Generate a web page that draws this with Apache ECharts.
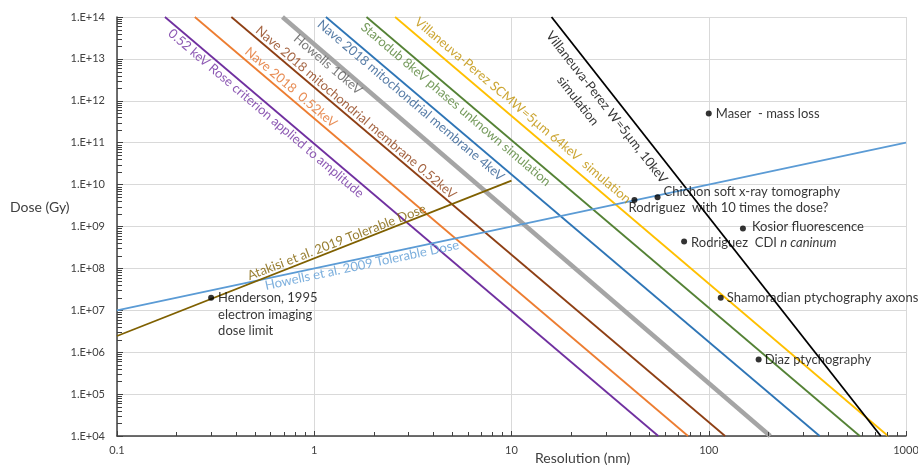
<!DOCTYPE html>
<html><head><meta charset="utf-8">
<script src="https://cdn.jsdelivr.net/npm/echarts@6/dist/echarts.min.js"></script>
<style>html,body{margin:0;padding:0;background:#fff}#c{width:918px;height:467px}</style>
</head><body><div id="c"></div>
<script>
// ---------- DATA ----------
const xTickLabels = ['0.1', '1', '10', '100', '1000'];
const yTickLabels = ['1.E+04','1.E+05','1.E+06','1.E+07','1.E+08','1.E+09','1.E+10','1.E+11','1.E+12','1.E+13','1.E+14'];

const lineNames = [
  '0.52 keV Rose criterion applied to amplitude',
  'Nave 2018  0.52keV',
  'Nave 2018 mitochondrial membrane 0.52keV',
  'Howells 10keV',
  'Nave 2018 mitochondrial membrane 4keV',
  'Starodub 8keV phases unknown simulation',
  'Villaneuva-Perez SCMW=5µm 64keV  simulation',
  'Villaneuva-Perez W=5µm, 10keV simulation',
  'Howells et al. 2009 Tolerable Dose',
  'Atakisi et al. 2019 Tolerable Dose'
];
// resolution (nm) at the two ends of each line
const lineResolution = [
  [0.175, 55.5], [0.248, 78.5], [0.38, 121], [0.69, 205], [1.146, 365],
  [1.84, 583], [2.57, 811], [15.96, 745], [0.1, 1000], [0.1, 10]
];
// dose (Gy) at the two ends of each line
const lineDose = [
  [1e14, 1e4], [1e14, 1e4], [1e14, 1e4], [1e14, 1e4], [1e14, 1e4],
  [1e14, 1e4], [1e14, 1e4], [1e14, 1e4], [1e7, 1e11], [2.44e6, 1.24e10]
];

const pointNames = [
  'Henderson, 1995\nelectron imaging\ndose limit',
  'Maser  - mass loss',
  'Chichon soft x-ray tomography',
  'Rodriguez  with 10 times the dose?',
  'Kosior fluorescence',
  'Rodriguez  CDI n caninum',
  'Shamoradian ptychography axons',
  'Diaz ptychography'
];
const pointResolution = [0.3, 100, 55, 42, 149, 75, 115, 179];
const pointDose = [2e7, 5e11, 5e9, 4.3e9, 9e8, 4.4e8, 2e7, 6.7e5];

// ---------- STYLE ----------
const FONT = 'Lato, "Liberation Sans", sans-serif';
const lineColors = ['#7030A0','#ED7D31','#8E3F14','#A5A5A5','#2E75B6','#548235','#FFC000','#000000','#5B9BD5','#7F6000'];
const lineWidths = [1.8,1.8,1.8,4.5,1.8,1.8,1.8,1.8,1.8,1.8];

// line label placement (text centre in data coordinates) and rotation
const lineLabelStyle = [
  { res: 0.569, dose: 5.0e11, rot: -40.4, color: '#7030A0' },
  { res: 0.762, dose: 2.09e12, rot: -40.4, color: '#E2702A' },
  { res: 1.627, dose: 5.25e11, rot: -40.4, color: '#8E3F14' },
  { res: 1.173, dose: 7.4e12, rot: -40.4, color: '#595959' },
  { res: 3.09, dose: 1.02e12, rot: -40.4, color: '#2E5C91' },
  { res: 5.22, dose: 8.2e11, rot: -40.4, color: '#548235' },
  { res: 11.4, dose: 5.9e11, rot: -40.4, color: '#BF9000' },
  { res: 30.4, dose: 7.0e11, rot: -52, color: '#000000', text: 'Villaneuva-Perez W=5µm, 10keV' },
  { res: 1.745, dose: 1.19e8, rot: 12, color: '#5B9BD5' },
  { res: 1.30, dose: 4.2e8, rot: 21, color: '#7F6000' }
];
const extraLabel = { text: 'simulation', res: 21.7, dose: 1.0e12, rot: -52, color: '#000000' };

const pointLabelOffset = [[0, 17], [0, 0], [-1, -5], [-13, 8], [2, -2], [0, 1], [-1, 0], [-1, 0]];

// ---------- BUILD ----------
const series = [];
lineNames.forEach((n, i) => {
  series.push({
    type: 'line', name: n, silent: true, symbol: 'none', animation: false,
    data: [[lineResolution[i][0], lineDose[i][0]], [lineResolution[i][1], lineDose[i][1]]],
    lineStyle: { color: lineColors[i], width: lineWidths[i] }, z: i === 3 ? 2 : 3
  });
});

const annoData = lineLabelStyle.map((s, i) => ({
  value: [s.res, s.dose],
  label: { formatter: s.text || lineNames[i], rotate: s.rot, color: s.color }
}));
annoData.push({ value: [extraLabel.res, extraLabel.dose], label: { formatter: extraLabel.text, rotate: extraLabel.rot, color: extraLabel.color } });
series.push({
  type: 'scatter', silent: true, symbolSize: 0, animation: false, z: 5,
  data: annoData,
  label: { show: true, position: 'inside', fontFamily: FONT, fontSize: 13 }
});

series.push({
  type: 'scatter', silent: true, animation: false, z: 6,
  symbolSize: 6, itemStyle: { color: '#000' },
  data: pointNames.map((n, i) => ({
    value: [pointResolution[i], pointDose[i]],
    label: {
      show: true, position: 'right', distance: 4, offset: pointLabelOffset[i],
      formatter: n.indexOf('n caninum') >= 0 ? '{a|Rodriguez  CDI }{b|n caninum}' : n,
      rich: { a: { fontFamily: FONT, fontSize: 13, color: '#000' }, b: { fontFamily: FONT, fontSize: 13, fontStyle: 'italic', color: '#000' } }
    }
  })),
  label: { fontFamily: FONT, fontSize: 13, color: '#000', lineHeight: 16.5, align: 'left' }
});

const chart = echarts.init(document.getElementById('c'));
chart.setOption({
  backgroundColor: '#fff',
  animation: false,
  grid: { left: 117, right: 12, top: 17, bottom: 31, containLabel: false, outerBoundsMode: 'none' },
  xAxis: {
    type: 'log', logBase: 10, min: 0.1, max: 1000, interval: 1,
    axisLine: { lineStyle: { color: '#404040', width: 1.5 } },
    axisTick: { show: true, inside: true, length: 5, lineStyle: { color: '#404040' } },
    axisLabel: { fontFamily: FONT, fontSize: 11, color: '#404040', margin: 9,
      formatter: v => xTickLabels[Math.round(Math.log10(v)) + 1] },
    splitLine: { show: true, lineStyle: { color: '#D9D9D9', width: 1 } },
    minorTick: { show: false }
  },
  yAxis: {
    type: 'log', logBase: 10, min: 1e4, max: 1e14, interval: 1,
    axisLine: { show: true, lineStyle: { color: '#404040', width: 1.5 } },
    axisTick: { show: true, inside: true, length: 6, lineStyle: { color: '#404040' } },
    axisLabel: { fontFamily: FONT, fontSize: 11, color: '#404040', margin: 12,
      formatter: v => yTickLabels[Math.round(Math.log10(v)) - 4] },
    splitLine: { show: true, lineStyle: { color: '#D9D9D9', width: 1 } },
    minorTick: { show: false }
  },
  series: series
});

// axis titles and minor ticks at 2..9 within each decade, positioned through the axis scales
const crisp = v => Math.round(v) + 0.5;
const graphics = [
  { type: 'text', left: 10, top: 200, silent: true,
    style: { text: 'Dose (Gy)', fontFamily: FONT, fontSize: 14, fill: '#404040' } },
  { type: 'text', left: 535, top: 451, silent: true,
    style: { text: 'Resolution (nm)', fontFamily: FONT, fontSize: 14, fill: '#404040' } }
];
for (let d = -1; d < 3; d++) for (let k = 2; k <= 9; k++) {
  const p = chart.convertToPixel({ gridIndex: 0 }, [k * Math.pow(10, d), 1e4]);
  const x = crisp(p[0]);
  graphics.push({ type: 'line', silent: true, z: 100,
    shape: { x1: x, y1: p[1], x2: x, y2: p[1] - 4 }, style: { stroke: '#404040', lineWidth: 1 } });
}
for (let d = 4; d < 14; d++) for (let k = 2; k <= 9; k++) {
  const p = chart.convertToPixel({ gridIndex: 0 }, [0.1, k * Math.pow(10, d)]);
  const y = crisp(p[1]);
  graphics.push({ type: 'line', silent: true, z: 100,
    shape: { x1: p[0], y1: y, x2: p[0] + 5, y2: y }, style: { stroke: '#404040', lineWidth: 1 } });
}
chart.setOption({ graphic: graphics });
</script></body></html>
